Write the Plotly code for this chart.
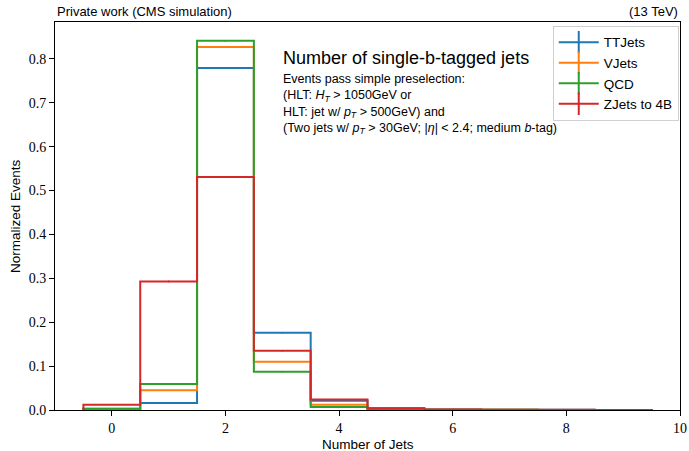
import plotly.graph_objects as go

# Histogram binning: number of single-b-tagged jets, 0..9
bin_edges = [-0.5, 0.5, 1.5, 2.5, 3.5, 4.5, 5.5, 6.5, 7.5, 8.5, 9.5]
bin_centers = [0, 1, 2, 3, 4, 5, 6, 7, 8, 9]

# Normalized event fractions per sample
ttjets = [0.002, 0.016, 0.779, 0.176, 0.021, 0.004, 0.001, 0.0005, 0.0003, 0.0002]
vjets = [0.003, 0.045, 0.827, 0.110, 0.012, 0.002, 0.0007, 0.0003, 0.0002, 0.0001]
qcd = [0.003, 0.059, 0.841, 0.087, 0.007, 0.002, 0.0006, 0.0003, 0.0002, 0.0001]
zjets = [0.012, 0.293, 0.531, 0.135, 0.024, 0.004, 0.001, 0.0005, 0.0003, 0.0002]

# Statistical uncertainties (small)
ttjets_err = [0.0003, 0.001, 0.002, 0.0015, 0.0005, 0.0002, 0.0001, 0.0001, 0.0001, 0.0001]
vjets_err = [0.0003, 0.001, 0.002, 0.0015, 0.0005, 0.0002, 0.0001, 0.0001, 0.0001, 0.0001]
qcd_err = [0.0003, 0.001, 0.002, 0.0015, 0.0005, 0.0002, 0.0001, 0.0001, 0.0001, 0.0001]
zjets_err = [0.0005, 0.002, 0.002, 0.0015, 0.0006, 0.0003, 0.0001, 0.0001, 0.0001, 0.0001]

samples = [
    ("TTJets", ttjets, ttjets_err, "#1f77b4"),
    ("VJets", vjets, vjets_err, "#ff7f0e"),
    ("QCD", qcd, qcd_err, "#2ca02c"),
    ("ZJets to 4B", zjets, zjets_err, "#d62728"),
]

fig = go.Figure()

for name, vals, errs, color in samples:
    # step outline closed to zero at both ends
    xs = [bin_edges[0]] + bin_edges
    ys = [0] + vals + [0]
    fig.add_trace(go.Scatter(
        x=xs, y=ys, mode="lines", line=dict(color=color, width=2, shape="hv"),
        showlegend=False, hoverinfo="skip",
    ))
    # error bars at bin centres
    fig.add_trace(go.Scatter(
        x=bin_centers, y=vals, mode="markers", marker=dict(size=1, color=color, opacity=0),
        error_y=dict(type="data", array=errs, color=color, thickness=1.5, width=0),
        showlegend=False, hoverinfo="skip",
    ))
    # legend entry: line with vertical error bar
    fig.add_trace(go.Scatter(
        x=[None], y=[None], mode="lines+markers", name=name,
        line=dict(color=color, width=2),
        marker=dict(symbol="line-ns-open", size=16, color=color,
                    line=dict(color=color, width=2)),
    ))

sans = "Liberation Sans, Arial, sans-serif"
serif = "Liberation Serif, DejaVu Serif, serif"

fig.update_layout(
    width=689, height=451,
    margin=dict(l=55, r=9, t=22, b=41),
    paper_bgcolor="white", plot_bgcolor="white",
    font=dict(family=sans, size=12, color="black"),
    xaxis=dict(
        range=[-1, 10], tickvals=[0, 2, 4, 6, 8, 10],
        ticks="outside", ticklen=5, tickwidth=1, tickcolor="black",
        showline=True, linecolor="black", linewidth=1, mirror=True,
        showgrid=False, zeroline=False, automargin=False,
        ticklabelstandoff=0,
        tickfont=dict(family=serif, size=14),
    ),
    yaxis=dict(
        range=[0, 0.884], tickvals=[0, 0.1, 0.2, 0.3, 0.4, 0.5, 0.6, 0.7, 0.8],
        ticktext=["0.0", "0.1", "0.2", "0.3", "0.4", "0.5", "0.6", "0.7", "0.8"],
        ticks="outside", ticklen=5, tickwidth=1, tickcolor="black",
        showline=True, linecolor="black", linewidth=1, mirror=True,
        showgrid=False, zeroline=False, automargin=False,
        tickfont=dict(family=serif, size=14),
    ),
    legend=dict(
        x=0.998, y=0.99, xanchor="right", yanchor="top",
        bgcolor="white", bordercolor="#d0d0d0", borderwidth=1,
        font=dict(family=sans, size=13.5), itemwidth=40, tracegroupgap=0,
    ),
    annotations=[
        dict(text="Private work (CMS simulation)", xref="paper", yref="paper",
             x=0, y=1, xanchor="left", yanchor="bottom", yshift=1, showarrow=False,
             font=dict(family=sans, size=13)),
        dict(text="(13 TeV)", xref="paper", yref="paper",
             x=1, y=1, xanchor="right", yanchor="bottom", yshift=1, showarrow=False,
             font=dict(family=sans, size=13)),
        dict(text="Number of Jets", xref="paper", yref="paper",
             x=0.5, y=0, xanchor="center", yanchor="middle", yshift=-34,
             showarrow=False, font=dict(family=sans, size=13.5)),
        dict(text="Normalized Events", xref="paper", yref="paper", textangle=-90,
             x=0, y=0.5, xanchor="center", yanchor="middle", xshift=-40,
             showarrow=False, font=dict(family=sans, size=13.5)),
        dict(text="Number of single-b-tagged jets", xref="paper", yref="paper",
             x=0.3616, y=0.937, xanchor="left", yanchor="top", showarrow=False,
             font=dict(family=sans, size=18)),
        dict(text=("Events pass simple preselection:<br>"
                   "(HLT: <i>H<sub>T</sub></i> &gt; 1050GeV or<br>"
                   "HLT: jet w/ <i>p<sub>T</sub></i> &gt; 500GeV) and<br>"
                   "(Two jets w/ <i>p<sub>T</sub></i> &gt; 30GeV; |<i>η</i>| &lt; 2.4; medium <i>b</i>-tag)"),
             xref="paper", yref="paper", align="left",
             x=0.3616, y=0.876, xanchor="left", yanchor="top", showarrow=False,
             font=dict(family=sans, size=12.5)),
    ],
)

fig.write_html("out.html")
